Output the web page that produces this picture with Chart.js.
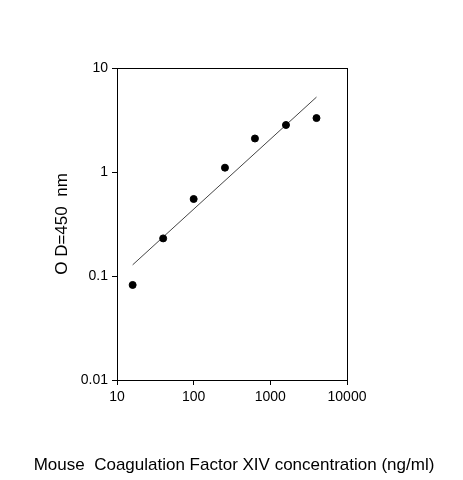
<!DOCTYPE html>
<html><head><script src="https://cdn.jsdelivr.net/npm/chart.js@4"></script>
<style>body{margin:0;background:#fff}</style></head>
<body><div style="width:463px;height:480px"><canvas id="c"></canvas></div>
<script>
const concentrations=[16,40,100,256,630,1600,4000];
const odValues=[0.082,0.23,0.55,1.1,2.1,2.83,3.3];
const trendX=[16,4000];
const trendY=[0.128,5.25];
const xTicks=[10,100,1000,10000];
const yTicks=[0.01,0.1,1,10];
const xTitle='Mouse  Coagulation Factor XIV concentration (ng/ml)';
const fmt=v=>String(v);
const box={id:'box',afterDraw(c){const a=c.chartArea,x=c.ctx;x.save();x.strokeStyle='#000';x.lineWidth=1;x.strokeRect(a.left+0.5,a.top+0.5,a.right-a.left,a.bottom-a.top);
x.fillStyle='#000';x.font='17px "Liberation Sans"';x.textAlign='center';x.textBaseline='middle';x.fillText(xTitle,234,465);x.restore();}};
new Chart(document.getElementById('c'),{
data:{datasets:[
{type:'scatter',data:concentrations.map((v,i)=>({x:v,y:odValues[i]})),backgroundColor:'#000',borderColor:'#000',pointRadius:3.5},
{type:'line',data:trendX.map((v,i)=>({x:v,y:trendY[i]})),borderColor:'#444',borderWidth:1,pointRadius:0,fill:false}
]},
options:{responsive:true,maintainAspectRatio:false,animation:false,
layout:{padding:{left:52,right:116,top:68,bottom:6}},
plugins:{legend:{display:false},tooltip:{enabled:false}},
scales:{
x:{type:'logarithmic',min:10,max:10000,afterBuildTicks:s=>{s.ticks=xTicks.map(v=>({value:v}))},
afterFit:s=>{s.height=94},
ticks:{callback:fmt,color:'#000',font:{family:'Liberation Sans',size:14},maxRotation:0,padding:4},
grid:{drawOnChartArea:false,drawTicks:true,tickLength:5,color:'#000'},border:{color:'#000'}},
y:{type:'logarithmic',min:0.01,max:10,afterBuildTicks:s=>{s.ticks=yTicks.map(v=>({value:v}))},
afterFit:s=>{s.width=65},
ticks:{callback:fmt,color:'#000',font:{family:'Liberation Sans',size:14},padding:4},
grid:{drawOnChartArea:false,drawTicks:true,tickLength:5,color:'#000'},border:{color:'#000'},
title:{display:true,text:'O D=450  nm',color:'#000',font:{family:'Liberation Sans',size:17},padding:{top:0,bottom:0}}}
}},plugins:[box]});
</script></body></html>
